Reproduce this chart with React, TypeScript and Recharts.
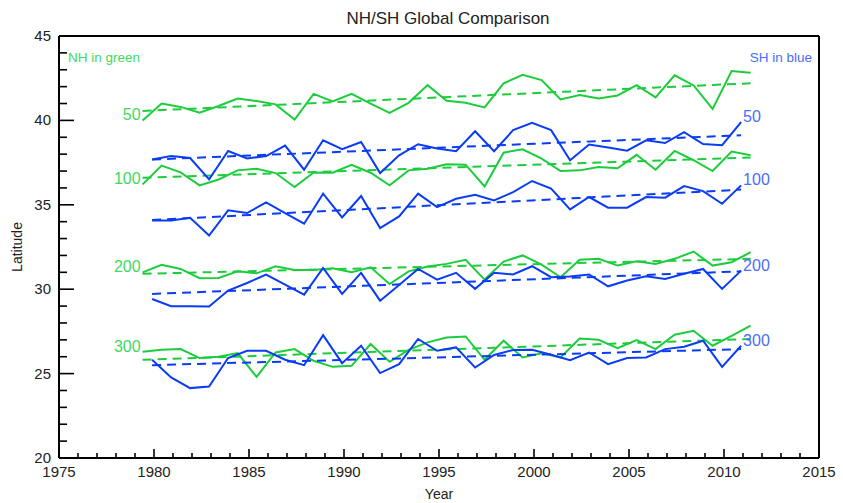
import React from "react";
import { LineChart, Line, XAxis, YAxis } from "recharts";

// NH series: yearly values, plotted a little after the start of the year
const nhYears = Array.from({ length: 33 }, (_, i) => 1979 + i);
const shYears = Array.from({ length: 32 }, (_, i) => 1980 + i);
const NH_SHIFT = 0.4;
const SH_SHIFT = -0.1;

const nh50 = [40.0, 41.0, 40.8, 40.45, 40.85, 41.3, 41.15, 40.95, 40.05, 41.57, 41.12, 41.57, 41.0, 40.45, 41.04, 42.09, 41.16, 41.04, 40.77, 42.19, 42.7, 42.39, 41.24, 41.5, 41.3, 41.48, 42.09, 41.36, 42.67, 42.07, 40.68, 42.92, 42.82];
const nh100 = [36.21, 37.32, 36.92, 36.15, 36.5, 37.04, 37.14, 36.88, 36.05, 36.92, 36.9, 37.37, 36.9, 36.15, 37.04, 37.14, 37.4, 37.38, 36.09, 38.09, 38.29, 37.74, 37.0, 37.04, 37.24, 37.16, 37.96, 37.08, 38.19, 37.64, 37.0, 38.15, 37.93];
const nh200 = [31.0, 31.44, 31.2, 30.65, 30.67, 31.06, 30.94, 31.36, 31.14, 31.14, 31.24, 31.0, 31.3, 30.31, 31.06, 31.34, 31.5, 31.74, 30.57, 31.64, 32.0, 31.46, 30.71, 31.74, 31.8, 31.4, 31.66, 31.5, 31.8, 32.23, 31.4, 31.6, 32.19];
const nh300 = [26.29, 26.41, 26.45, 25.92, 26.0, 26.22, 24.81, 26.25, 26.45, 25.76, 25.4, 25.46, 26.75, 25.7, 26.41, 26.85, 27.14, 27.2, 25.82, 26.95, 25.96, 26.2, 25.96, 27.08, 27.0, 26.51, 26.99, 26.45, 27.3, 27.54, 26.65, 27.24, 27.84];

const sh50 = [37.68, 37.89, 37.77, 36.51, 38.19, 37.74, 37.89, 38.51, 37.08, 38.82, 38.3, 38.72, 36.88, 37.93, 38.59, 38.33, 38.17, 39.36, 38.17, 39.42, 39.85, 39.42, 37.64, 38.57, 38.39, 38.21, 38.82, 38.66, 39.31, 38.6, 38.53, 39.9];
const sh100 = [34.07, 34.07, 34.23, 33.18, 34.67, 34.51, 35.14, 34.51, 33.88, 35.66, 34.25, 35.52, 33.62, 34.31, 35.66, 34.86, 35.36, 35.6, 35.26, 35.75, 36.41, 35.96, 34.73, 35.46, 34.83, 34.83, 35.46, 35.42, 36.11, 35.81, 35.06, 36.15];
const sh200 = [29.42, 28.99, 28.99, 28.97, 29.92, 30.37, 30.87, 30.27, 29.68, 31.26, 29.72, 30.97, 29.32, 30.25, 31.2, 30.57, 30.97, 30.02, 30.97, 30.87, 31.36, 30.71, 30.75, 30.87, 30.17, 30.51, 30.77, 30.61, 30.91, 31.2, 30.02, 31.1];
const sh300 = [25.82, 24.77, 24.14, 24.23, 25.92, 26.35, 26.35, 25.82, 25.5, 27.28, 25.62, 26.65, 25.03, 25.56, 27.05, 26.35, 26.55, 25.36, 26.1, 26.4, 26.41, 26.12, 25.8, 26.25, 25.56, 25.92, 25.96, 26.45, 26.59, 26.95, 25.4, 26.65];

// linear trend of each series: value at first and last year
const nhTrendStart = [40.56, 36.6, 30.91, 25.82];
const nhTrendEnd = [42.2, 37.8, 31.8, 27.05];
const shTrendStart = [37.68, 34.1, 29.72, 25.5];
const shTrendEnd = [39.12, 35.9, 31.06, 26.45];

const levels = ["50", "100", "200", "300"];
const nhSeries = [nh50, nh100, nh200, nh300];
const shSeries = [sh50, sh100, sh200, sh300];

const majorYears = [1975, 1980, 1985, 1990, 1995, 2000, 2005, 2010, 2015];
const majorLats = [20, 25, 30, 35, 40, 45];
const allYears = Array.from({ length: 41 }, (_, i) => 1975 + i);
const allLats = Array.from({ length: 26 }, (_, i) => 20 + i);

const GREEN = "#1ccc3c";
const BLUE = "#0a3cf5";
const GREEN_TEXT = "#3fd95f";
const BLUE_TEXT = "#4a6cff";
const FONT = "'Liberation Sans', Arial, Helvetica, sans-serif";

const W = 843;
const H = 503;
const PLOT = { left: 59, right: 819, top: 36, bottom: 458 };
// axes need a non-zero size to be drawn; the margins make up the rest
const AX = 1;

const toPoints = (years: number[], shift: number, values: number[]) =>
  values.map((v, i) => ({ t: years[i] + shift, v }));

function BottomTick({ x, y, payload }: any) {
  const major = majorYears.includes(payload.value);
  return (
    <g>
      <line x1={x} x2={x} y1={y} y2={y - (major ? 9 : 5)} stroke="#000" strokeWidth={1.6} />
      {major && (
        <text x={x} y={y + 19} textAnchor="middle" fontSize={15} fill="#222" fontFamily={FONT}>
          {payload.value}
        </text>
      )}
    </g>
  );
}

function TopTick({ x, y, payload }: any) {
  const major = majorYears.includes(payload.value);
  return <line x1={x} x2={x} y1={y} y2={y + (major ? 9 : 5)} stroke="#000" strokeWidth={1.6} />;
}

function LeftTick({ x, y, payload }: any) {
  const major = majorLats.includes(payload.value);
  return (
    <g>
      <line x1={x} x2={x + (major ? 15 : 8)} y1={y} y2={y} stroke="#000" strokeWidth={1.6} />
      {major && (
        <text x={x - 8} y={y + 5} textAnchor="end" fontSize={15} fill="#222" fontFamily={FONT}>
          {payload.value}
        </text>
      )}
    </g>
  );
}

function RightTick({ x, y, payload }: any) {
  const major = majorLats.includes(payload.value);
  return <line x1={x} x2={x - (major ? 15 : 8)} y1={y} y2={y} stroke="#000" strokeWidth={1.6} />;
}

// level name written just before the first point of an NH line
const nhLabel = (text: string) => (p: any) =>
  p.index === 0 ? (
    <text key={`nh-${text}`} x={p.cx - 2} y={p.cy} textAnchor="end" fontSize={16} fill={GREEN_TEXT} fontFamily={FONT}>
      {text}
    </text>
  ) : (
    <g key={`nh-${text}-${p.index}`} />
  );

// level name written just after the last point of an SH line
const shLabel = (text: string, last: number) => (p: any) =>
  p.index === last ? (
    <text key={`sh-${text}`} x={p.cx + 2} y={p.cy} textAnchor="start" fontSize={16} fill={BLUE_TEXT} fontFamily={FONT}>
      {text}
    </text>
  ) : (
    <g key={`sh-${text}-${p.index}`} />
  );

export default function App() {
  const nhFirst = nhYears[0] + NH_SHIFT;
  const nhLast = nhYears[nhYears.length - 1] + NH_SHIFT;
  const shFirst = shYears[0] + SH_SHIFT;
  const shLast = shYears[shYears.length - 1] + SH_SHIFT;
  const axisLine = { stroke: "#000", strokeWidth: 2 };

  return (
    <div style={{ position: "absolute", left: 0, top: 0, width: W, height: H, background: "#fff", fontFamily: FONT }}>
      <LineChart
        width={W}
        height={H}
        margin={{
          top: PLOT.top - AX,
          right: W - PLOT.right - AX,
          bottom: H - PLOT.bottom - AX,
          left: PLOT.left - AX,
        }}
      >
        <XAxis
          xAxisId="bottom"
          dataKey="t"
          type="number"
          domain={[1975, 2015]}
          ticks={allYears}
          interval={0}
          height={AX}
          tickSize={0}
          tickMargin={0}
          tick={<BottomTick />}
          tickLine={false}
          axisLine={axisLine}
          allowDataOverflow
        />
        <XAxis
          xAxisId="top"
          orientation="top"
          dataKey="t"
          type="number"
          domain={[1975, 2015]}
          ticks={allYears}
          interval={0}
          height={AX}
          tickSize={0}
          tickMargin={0}
          tick={<TopTick />}
          tickLine={false}
          axisLine={axisLine}
        />
        <YAxis
          yAxisId="left"
          type="number"
          domain={[20, 45]}
          ticks={allLats}
          interval={0}
          width={AX}
          tickSize={0}
          tickMargin={0}
          tick={<LeftTick />}
          tickLine={false}
          axisLine={axisLine}
          allowDataOverflow
        />
        <YAxis
          yAxisId="right"
          orientation="right"
          type="number"
          domain={[20, 45]}
          ticks={allLats}
          interval={0}
          width={AX}
          tickSize={0}
          tickMargin={0}
          tick={<RightTick />}
          tickLine={false}
          axisLine={axisLine}
        />

        {nhSeries.map((vals, k) => (
          <Line
            key={`nh-line-${k}`}
            xAxisId="bottom"
            yAxisId="left"
            data={toPoints(nhYears, NH_SHIFT, vals)}
            dataKey="v"
            stroke={GREEN}
            strokeWidth={2}
            dot={nhLabel(levels[k])}
            activeDot={false}
            isAnimationActive={false}
          />
        ))}
        {nhSeries.map((_, k) => (
          <Line
            key={`nh-trend-${k}`}
            xAxisId="bottom"
            yAxisId="left"
            data={[{ t: nhFirst, v: nhTrendStart[k] }, { t: nhLast, v: nhTrendEnd[k] }]}
            dataKey="v"
            stroke={GREEN}
            strokeWidth={2}
            strokeDasharray="9 6"
            dot={false}
            activeDot={false}
            isAnimationActive={false}
          />
        ))}
        {shSeries.map((vals, k) => (
          <Line
            key={`sh-line-${k}`}
            xAxisId="bottom"
            yAxisId="left"
            data={toPoints(shYears, SH_SHIFT, vals)}
            dataKey="v"
            stroke={BLUE}
            strokeWidth={2}
            dot={shLabel(levels[k], vals.length - 1)}
            activeDot={false}
            isAnimationActive={false}
          />
        ))}
        {shSeries.map((_, k) => (
          <Line
            key={`sh-trend-${k}`}
            xAxisId="bottom"
            yAxisId="left"
            data={[{ t: shFirst, v: shTrendStart[k] }, { t: shLast, v: shTrendEnd[k] }]}
            dataKey="v"
            stroke={BLUE}
            strokeWidth={2}
            strokeDasharray="9 6"
            dot={false}
            activeDot={false}
            isAnimationActive={false}
          />
        ))}
      </LineChart>

      <svg width={W} height={H} style={{ position: "absolute", left: 0, top: 0, pointerEvents: "none" }}>
        <text x={448} y={24} textAnchor="middle" fontSize={17} fill="#222" fontFamily={FONT}>
          NH/SH Global Comparison
        </text>
        <text x={(PLOT.left + PLOT.right) / 2} y={499} textAnchor="middle" fontSize={14} fill="#222" fontFamily={FONT}>
          Year
        </text>
        <text
          x={22}
          y={(PLOT.top + PLOT.bottom) / 2}
          textAnchor="middle"
          fontSize={14}
          fill="#222"
          fontFamily={FONT}
          transform={`rotate(-90 22 ${(PLOT.top + PLOT.bottom) / 2})`}
        >
          Latitude
        </text>
        <text x={68} y={62} fontSize={13.5} fill={GREEN_TEXT} fontFamily={FONT}>
          NH in green
        </text>
        <text x={812} y={62} textAnchor="end" fontSize={13.5} fill={BLUE_TEXT} fontFamily={FONT}>
          SH in blue
        </text>
      </svg>
    </div>
  );
}
